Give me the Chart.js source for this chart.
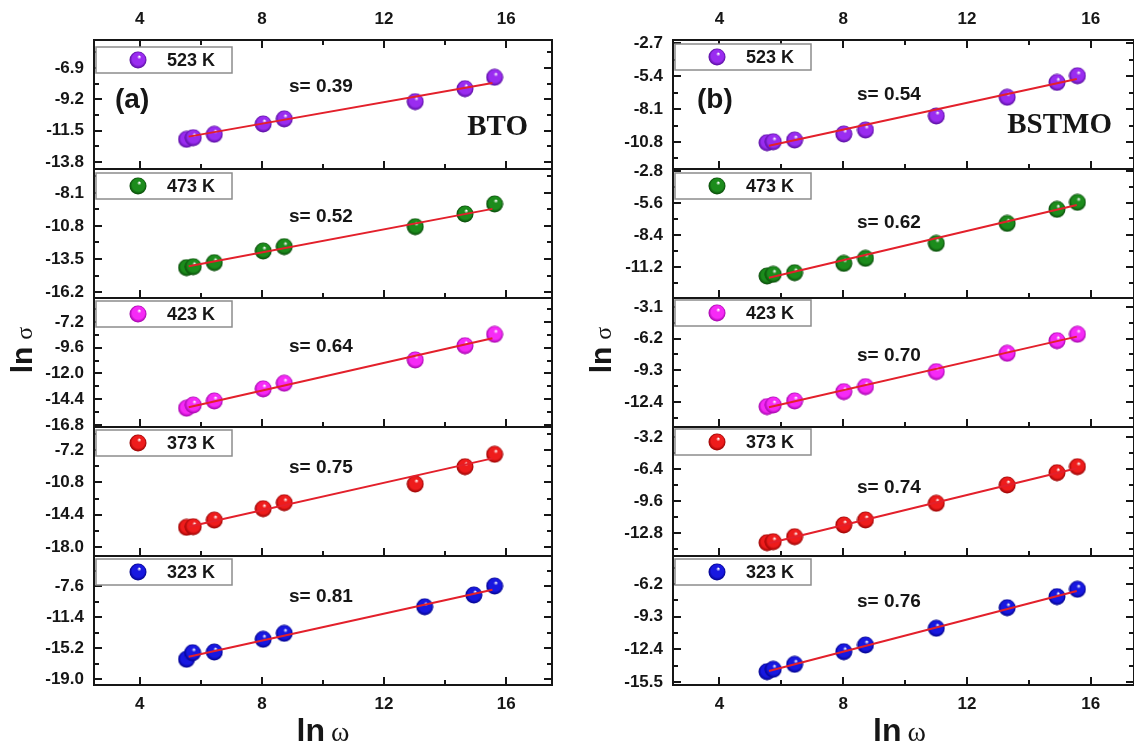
<!DOCTYPE html>
<html>
<head>
<meta charset="utf-8">
<script src="https://cdn.jsdelivr.net/npm/chart.js@4.4.1/dist/chart.umd.min.js"></script>
<style>
  html, body { margin: 0; padding: 0; background: #fff; }
  #wrap { position: relative; width: 1134px; height: 746px; overflow: hidden; }
  canvas { position: absolute; top: 0; }
  #cA { left: 0; }
  #cB { left: 567px; }
</style>
</head>
<body>
<div id="wrap">
  <canvas id="cA" width="567" height="746"></canvas>
  <canvas id="cB" width="580" height="746"></canvas>
</div>
<script>
// panels from top to bottom
const temps = ["523 K", "473 K", "423 K", "373 K", "323 K"];

// ln ω of the measured points
const lnwBTO = [5.53, 5.75, 6.44, 8.04, 8.73, 13.02, 14.65, 15.62];
const lnwBTO323 = [5.53, 5.73, 6.44, 8.04, 8.73, 13.33, 14.94, 15.62];
const lnwBSTMO = [5.54, 5.74, 6.43, 8.02, 8.72, 11.01, 13.30, 14.91, 15.57];

// ln σ, BTO (a)
const bto523 = [-12.14, -12.02, -11.77, -11.01, -10.64, -9.37, -8.42, -7.58];
const bto473 = [-14.21, -14.13, -13.80, -12.85, -12.49, -10.86, -9.82, -9.00];
const bto423 = [-15.24, -14.94, -14.56, -13.44, -12.91, -10.74, -9.41, -8.35];
const bto373 = [-15.81, -15.74, -15.00, -13.74, -13.07, -10.99, -9.06, -7.68];
const bto323 = [-16.58, -15.77, -15.69, -14.13, -13.40, -10.14, -8.70, -7.60];

// ln σ, BSTMO (b)
const bstmo523 = [-10.86, -10.78, -10.64, -10.15, -9.82, -8.67, -7.14, -5.92, -5.38];
const bstmo473 = [-11.99, -11.84, -11.70, -10.88, -10.44, -9.13, -7.38, -6.15, -5.54];
const bstmo423 = [-12.86, -12.69, -12.30, -11.39, -10.90, -9.43, -7.63, -6.40, -5.77];
const bstmo373 = [-13.77, -13.67, -13.17, -12.00, -11.50, -9.83, -8.00, -6.77, -6.17];
const bstmo323 = [-14.52, -14.29, -13.82, -12.62, -11.99, -10.40, -8.45, -7.40, -6.70];

// fitted lines, ln σ at the two ends fitX
const fitX = [5.6, 15.55];
const fitBTO = [[-11.94, -8.0], [-14.1, -9.4], [-15.15, -8.72], [-15.74, -8.13], [-16.26, -8.05]];
const fitBSTMO = [[-11.1, -5.65], [-12.13, -5.77], [-12.92, -6.0], [-13.83, -6.33], [-14.45, -6.86]];

const slopesBTO = ["0.39", "0.52", "0.64", "0.75", "0.81"];
const slopesBSTMO = ["0.54", "0.62", "0.70", "0.74", "0.76"];

// axes
const xTicks = [4, 8, 12, 16];
const xMinor = [6, 10, 14];
const ticksBTO = [[-6.9, -9.2, -11.5, -13.8], [-8.1, -10.8, -13.5, -16.2], [-7.2, -9.6, -12.0, -14.4, -16.8], [-7.2, -10.8, -14.4, -18.0], [-7.6, -11.4, -15.2, -19.0]];
const rangesBTO = [[-14.32, -4.84], [-16.69, -6.14], [-16.99, -4.96], [-19.0, -4.64], [-19.73, -3.92]];
const ticksBSTMO = [[-2.7, -5.4, -8.1, -10.8], [-2.8, -5.6, -8.4, -11.2], [-3.1, -6.2, -9.3, -12.4], [-3.2, -6.4, -9.6, -12.8], [-6.2, -9.3, -12.4, -15.5]];
const rangesBSTMO = [[-13.01, -2.45], [-13.91, -2.62], [-14.85, -2.22], [-15.1, -2.2], [-15.78, -3.54]];

const INK = "#161616";
const SANS = '"Liberation Sans", Arial, sans-serif';
const SERIF = '"Liberation Serif", "Times New Roman", serif';
const tickFont = { family: SANS, size: 17, weight: "bold" };

const colors = ["#9a2cf0", "#1c8c1c", "#f62af6", "#ee1c1c", "#1818e0"];
const darks = ["#520a98", "#074407", "#9c00a4", "#900000", "#000084"];

function sphere(base, dark) {
  const c = document.createElement("canvas");
  c.width = 18;
  c.height = 18;
  const g = c.getContext("2d");
  const grd = g.createRadialGradient(10.5, 5.5, 0.3, 9, 9, 8.6);
  grd.addColorStop(0, "#ffffff");
  grd.addColorStop(0.22, base);
  grd.addColorStop(0.7, base);
  grd.addColorStop(1, dark);
  g.fillStyle = grd;
  g.beginPath();
  g.arc(9, 9, 8.5, 0, Math.PI * 2);
  g.fill();
  return c;
}
const spheres = colors.map((c, i) => sphere(c, darks[i]));

function mixed(ctx, parts, cx, base) {
  let w = 0;
  parts.forEach(p => { ctx.font = p.font; w += ctx.measureText(p.text).width + (p.gap || 0); });
  let x = cx - w / 2;
  ctx.textAlign = "left";
  ctx.textBaseline = "alphabetic";
  parts.forEach(p => {
    ctx.font = p.font;
    ctx.fillText(p.text, x, base);
    x += ctx.measureText(p.text).width + (p.gap || 0);
  });
}

function makeDeco(c) {
  return {
    id: "deco",
    afterDraw(chart) {
      const ctx = chart.ctx, a = chart.chartArea, xs = chart.scales.x;
      const seg = (x1, y1, x2, y2) => { ctx.beginPath(); ctx.moveTo(x1, y1); ctx.lineTo(x2, y2); ctx.stroke(); };
      ctx.save();
      ctx.strokeStyle = INK;
      ctx.lineWidth = 2;
      for (let i = 0; i < 5; i++) {
        const ys = chart.scales["y" + i];
        const maj = c.ticks[i];
        const d = Math.abs(maj[0] - maj[1]);
        const minors = [maj[0] + d / 2].concat(maj.map(v => v - d / 2));
        const lo = c.ranges[i][0], hi = c.ranges[i][1];
        const inR = v => v > lo && v < hi;
        maj.filter(inR).forEach(v => {
          const y = Math.round(ys.getPixelForValue(v));
          seg(a.left, y, a.left + 8, y);
          seg(a.right, y, a.right - 8, y);
        });
        minors.filter(inR).forEach(v => {
          const y = Math.round(ys.getPixelForValue(v));
          seg(a.left, y, a.left + 5, y);
          seg(a.right, y, a.right - 5, y);
        });
        xTicks.forEach(v => {
          const x = Math.round(xs.getPixelForValue(v));
          seg(x, ys.bottom, x, ys.bottom - 8);
          if (i === 0) seg(x, ys.top, x, ys.top + 8);
        });
        xMinor.forEach(v => {
          const x = Math.round(xs.getPixelForValue(v));
          seg(x, ys.bottom, x, ys.bottom - 5);
          if (i === 0) seg(x, ys.top, x, ys.top + 5);
        });
        if (i > 0) seg(a.left, ys.top, a.right, ys.top);
      }
      ctx.strokeRect(a.left, a.top, a.right - a.left, a.bottom - a.top);

      // legend boxes and slopes
      for (let i = 0; i < 5; i++) {
        const ys = chart.scales["y" + i];
        const bx = a.left + 2, by = ys.top + c.boxDy[i];
        ctx.fillStyle = "#fff";
        ctx.fillRect(bx, by, c.boxW, 26);
        ctx.strokeStyle = "#8c8c8c";
        ctx.lineWidth = 1.5;
        ctx.strokeRect(bx, by, c.boxW, 26);
        ctx.drawImage(spheres[i], bx + 33, by + 4);
        ctx.fillStyle = INK;
        ctx.textAlign = "left";
        ctx.textBaseline = "middle";
        ctx.font = "bold 18px " + SANS;
        ctx.fillText(temps[i], bx + 71, by + 14);
        ctx.font = "bold 19px " + SANS;
        ctx.fillText("s= " + c.slopes[i], a.left + c.slopeDx, ys.top + c.slopeDy[i]);
      }

      ctx.fillStyle = INK;
      ctx.textBaseline = "middle";
      ctx.textAlign = "left";
      ctx.font = "bold 28px " + SANS;
      ctx.fillText(c.tag, a.left + c.tagDx, a.top + 60);
      ctx.textAlign = "right";
      ctx.font = "bold 29px " + SERIF;
      ctx.fillText(c.name, a.right - c.nameDx, a.top + c.nameDy);

      // axis titles
      mixed(ctx, [{ text: "ln", font: "bold 32px " + SANS, gap: 6 }, { text: "ω", font: "28px " + SERIF }],
        (a.left + a.right) / 2 + c.omegaDx, a.bottom + 56);
      ctx.save();
      ctx.translate(a.left - 62, 350);
      ctx.rotate(-Math.PI / 2);
      mixed(ctx, [{ text: "ln", font: "bold 30px " + SANS, gap: 7 }, { text: "σ", font: "24px " + SERIF }], 0, 0);
      ctx.restore();
      ctx.restore();
    }
  };
}

function xAxis(pos, xMax, h, pad) {
  return {
    type: "linear", position: pos, min: 2.5, max: xMax,
    afterBuildTicks: ax => { ax.ticks = xTicks.map(v => ({ value: v })); },
    afterFit: ax => { ax.height = h; },
    grid: { display: false, drawTicks: false },
    border: { display: false },
    ticks: { padding: pad, color: INK, font: tickFont, autoSkip: false, callback: v => String(v) }
  };
}

function buildChart(id, c) {
  const datasets = [];
  const scales = {
    x: xAxis("bottom", c.xMax, 61, 9),
    xTop: xAxis("top", c.xMax, 40, 10)
  };
  c.sigma.forEach((ys, i) => {
    const yid = "y" + i;
    datasets.push({
      data: fitX.map((x, k) => ({ x: x, y: c.fit[i][k] })),
      showLine: true, borderColor: "#e3202b", borderWidth: 2, pointRadius: 0,
      xAxisID: "x", yAxisID: yid
    });
    datasets.push({
      data: c.lnw[i].map((x, k) => ({ x: x, y: ys[k] })),
      pointStyle: spheres[i], pointRadius: 8, showLine: false,
      xAxisID: "x", yAxisID: yid
    });
    scales[yid] = {
      type: "linear", position: "left", stack: "col", stackWeight: 1, weight: 5 - i,
      min: c.ranges[i][0], max: c.ranges[i][1],
      afterBuildTicks: ax => { ax.ticks = c.ticks[i].map(v => ({ value: v })); },
      afterFit: ax => { ax.width = c.axisW; },
      grid: { display: false, drawTicks: false },
      border: { display: false },
      ticks: { padding: 10, color: INK, font: tickFont, autoSkip: false, callback: v => v.toFixed(1) }
    };
  });
  return new Chart(document.getElementById(id), {
    type: "scatter",
    data: { datasets },
    options: {
      responsive: false,
      animation: false,
      layout: { padding: { left: 0, right: c.padRight, top: 0, bottom: 0 } },
      plugins: { legend: { display: false }, tooltip: { enabled: false } },
      scales
    },
    plugins: [makeDeco(c)]
  });
}

buildChart("cA", {
  lnw: [lnwBTO, lnwBTO, lnwBTO, lnwBTO, lnwBTO323],
  sigma: [bto523, bto473, bto423, bto373, bto323],
  fit: fitBTO, slopes: slopesBTO, ticks: ticksBTO, ranges: rangesBTO,
  xMax: 17.5, axisW: 94, padRight: 15,
  tag: "(a)", tagDx: 21, name: "BTO", nameDx: 24, nameDy: 88,
  boxDy: [7, 4, 3, 3, 3], boxW: 136,
  slopeDx: 195, slopeDy: [47, 48, 49, 41, 41], omegaDx: 0
});

buildChart("cB", {
  lnw: [lnwBSTMO, lnwBSTMO, lnwBSTMO, lnwBSTMO, lnwBSTMO],
  sigma: [bstmo523, bstmo473, bstmo423, bstmo373, bstmo323],
  fit: fitBSTMO, slopes: slopesBSTMO, ticks: ticksBSTMO, ranges: rangesBSTMO,
  xMax: 17.4, axisW: 106, padRight: 13,
  tag: "(b)", tagDx: 24, name: "BSTMO", nameDx: 22, nameDy: 86,
  boxDy: [4, 4, 2, 2, 3], boxW: 136,
  slopeDx: 184, slopeDy: [55, 54, 58, 61, 46], omegaDx: -4
});
</script>
</body>
</html>
